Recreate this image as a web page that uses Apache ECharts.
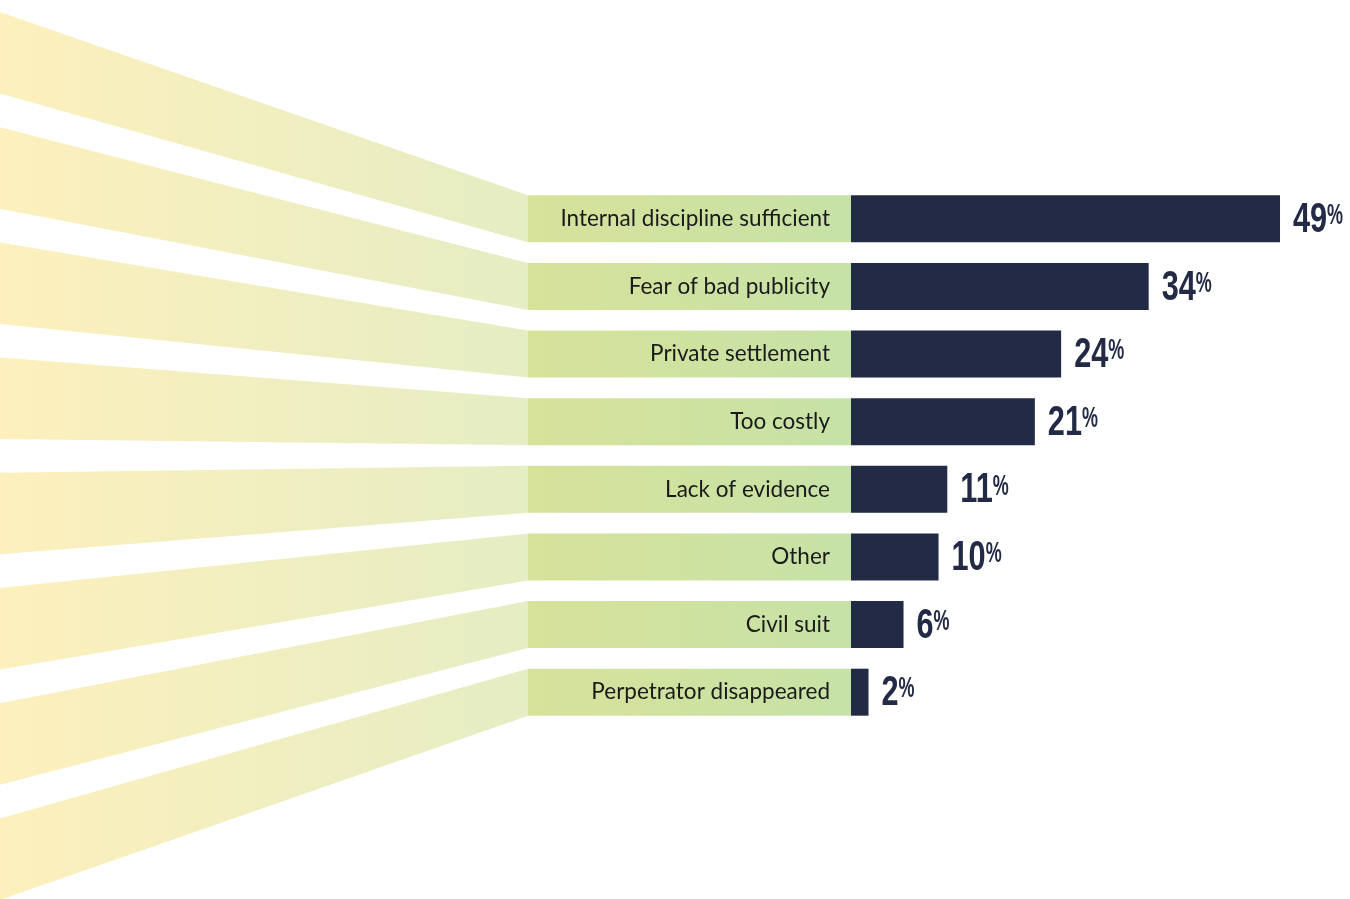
<!DOCTYPE html>
<html>
<head>
<meta charset="utf-8">
<script src="https://cdn.jsdelivr.net/npm/echarts@6/dist/echarts.min.js"></script>
<style>
html,body{margin:0;padding:0;background:#fff;}
#chart{width:1350px;height:899px;}
</style>
</head>
<body>
<div id="chart"></div>
<script>
const categories = [
  "Internal discipline sufficient",
  "Fear of bad publicity",
  "Private settlement",
  "Too costly",
  "Lack of evidence",
  "Other",
  "Civil suit",
  "Perpetrator disappeared"
];
const values = [49, 34, 24, 21, 11, 10, 6, 2];

const NAVY = '#222a45';
const BAR_H = 47;
const BOX_LEFT = 528;
const FAN_TOP0 = 12;
const FAN_PITCH = 115.2;
const FAN_H = 81.5;

const NUM_FONT = 'bold 42px "Liberation Sans", Arial, sans-serif';
const NUM_SCALE = 0.73;
const PCT_SIZE = 29;
const PCT_SCALE = 0.62;

const measureCtx = document.createElement('canvas').getContext('2d');
function numWidth(t) {
  measureCtx.font = NUM_FONT;
  return measureCtx.measureText(t).width;
}

const chart = echarts.init(document.getElementById('chart'), null, {renderer: 'canvas'});

const fanGradient = new echarts.graphic.LinearGradient(0, 0, BOX_LEFT, 0, [
  {offset: 0, color: '#fdf0bd'},
  {offset: 1, color: '#e5edc3'}
], true);
const boxGradient = new echarts.graphic.LinearGradient(0, 0, 1, 0, [
  {offset: 0, color: '#d7e29a'},
  {offset: 1, color: '#c6e2a7'}
]);

chart.setOption({
  animation: false,
  grid: {left: 851, width: 490.3, top: 185, height: 541},
  xAxis: {type: 'value', min: 0, max: 56, show: false},
  yAxis: {
    type: 'category',
    data: categories,
    inverse: true,
    axisLine: {show: false},
    axisTick: {show: false},
    splitLine: {show: false},
    axisLabel: {
      color: '#1a1a1a',
      fontSize: 22.5,
      fontFamily: 'Lato, "Open Sans", sans-serif',
      margin: 21
    },
    z: 10
  },
  series: [
    {
      type: 'custom',
      z: 1,
      silent: true,
      data: categories.map((c, i) => [0, i]),
      encode: {x: 0, y: 1},
      renderItem: function (params, api) {
        const i = api.value(1);
        const p = api.coord([0, i]);
        const yTop = p[1] - BAR_H / 2;
        const yBot = p[1] + BAR_H / 2;
        const lTop = FAN_TOP0 + i * FAN_PITCH;
        return {
          type: 'group',
          children: [
            {
              type: 'polygon',
              shape: {points: [[0, lTop], [BOX_LEFT, yTop], [BOX_LEFT, yBot], [0, lTop + FAN_H]]},
              style: {fill: fanGradient}
            },
            {
              type: 'rect',
              shape: {x: BOX_LEFT, y: yTop, width: p[0] - BOX_LEFT, height: BAR_H},
              style: {fill: boxGradient}
            }
          ]
        };
      }
    },
    {
      type: 'bar',
      z: 3,
      data: values,
      barWidth: BAR_H,
      itemStyle: {color: NAVY},
      silent: true
    },
    {
      type: 'custom',
      z: 4,
      silent: true,
      data: values.map((v, i) => [v, i]),
      encode: {x: 0, y: 1},
      renderItem: function (params, api) {
        const v = api.value(0);
        const p = api.coord([v, api.value(1)]);
        const txt = String(v);
        const x0 = p[0] + 13;
        const w = numWidth(txt) * NUM_SCALE;
        return {
          type: 'group',
          children: [
            {
              type: 'text',
              x: x0,
              y: p[1] + 1.5,
              scaleX: NUM_SCALE,
              style: {
                text: txt,
                x: 0, y: 0,
                align: 'left',
                verticalAlign: 'middle',
                font: NUM_FONT,
                fill: NAVY
              }
            },
            {
              type: 'text',
              x: x0 + w,
              y: p[1] - 2.8,
              scaleX: PCT_SCALE,
              style: {
                text: '%',
                x: 0, y: 0,
                align: 'left',
                verticalAlign: 'middle',
                font: 'bold ' + PCT_SIZE + 'px "Liberation Sans", Arial, sans-serif',
                fill: NAVY
              }
            }
          ]
        };
      }
    }
  ]
});
</script>
</body>
</html>
